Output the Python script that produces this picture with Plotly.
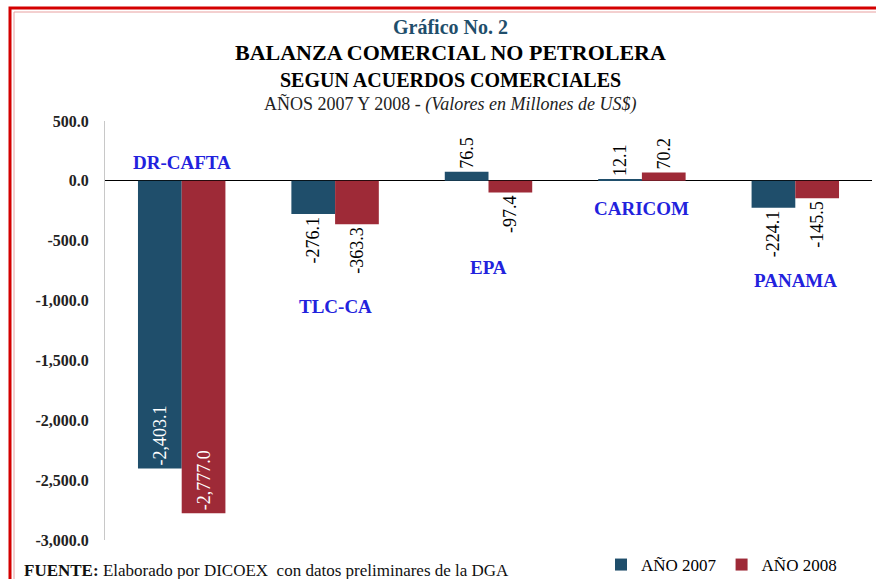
import plotly.graph_objects as go

acuerdos = ['DR-CAFTA', 'TLC-CA', 'EPA', 'CARICOM', 'PANAMA']
anio_2007 = [-2403.1, -276.1, 76.5, 12.1, -224.1]
anio_2008 = [-2777.0, -363.3, -97.4, 70.2, -145.5]
# where each agreement's blue name sits (in y data units)
nombre_y = [150, -1050, -720, -235, -830]
ytick_vals = [500, 0, -500, -1000, -1500, -2000, -2500, -3000]

AZUL = '#1f4e6b'
ROJO = '#9e2a37'
FONT = 'Liberation Serif'


def fmt(v):
    return '{:,.1f}'.format(v)


def bar(name, vals, color):
    pos = ['inside' if v < -1000 else 'outside' for v in vals]
    return go.Bar(x=acuerdos, y=vals, name=name, marker=dict(color=color, line=dict(width=0)),
                  text=[fmt(v) for v in vals], textposition=pos, textangle=-90,
                  insidetextanchor='end', cliponaxis=False, constraintext='none',
                  insidetextfont=dict(family=FONT, size=18, color='white'),
                  outsidetextfont=dict(family=FONT, size=18, color='black'))


fig = go.Figure([bar('AÑO 2007', anio_2007, AZUL), bar('AÑO 2008', anio_2008, ROJO)])

L, R, T, B = 105, 4, 121, 39
W, H = 876, 579
pw, ph = W - L - R, H - T - B


def px(x):
    return (x - L) / pw


def py(y):
    return (H - B - y) / ph


annotations = []
for a, ny in zip(acuerdos, nombre_y):
    annotations.append(dict(x=a, y=ny, xref='x', yref='y', text='<b>%s</b>' % a, showarrow=False,
                            font=dict(family=FONT, size=19, color='#2222dd')))

titulos = [
    ('<b>Gráfico No. 2</b>', 27, 20, AZUL),
    ('<b>BALANZA COMERCIAL NO PETROLERA</b>', 53, 22, 'black'),
    ('<b>SEGUN ACUERDOS COMERCIALES</b>', 80, 20, 'black'),
    ('AÑOS 2007 Y 2008 - <i>(Valores en Millones de US$)</i>', 104, 18, '#222222'),
]
for txt, y, size, color in titulos:
    annotations.append(dict(x=px(450), y=py(y), xref='paper', yref='paper', text=txt, showarrow=False,
                            yanchor='middle', font=dict(family=FONT, size=size, color=color)))

annotations.append(dict(x=px(22), y=py(570), xref='paper', yref='paper', xanchor='left', yanchor='middle',
                        text='<b>FUENTE:</b> Elaborado por DICOEX  con datos preliminares de la DGA',
                        showarrow=False, font=dict(family=FONT, size=17, color='#111111')))

fig.update_layout(
    width=W, height=H, margin=dict(l=L, r=R, t=T, b=B, autoexpand=False),
    paper_bgcolor='white', plot_bgcolor='white',
    barmode='group', bargap=0.43, bargroupgap=0,
    annotations=annotations,
    font=dict(family=FONT, color='black'),
    legend=dict(orientation='h', x=px(842), y=py(565), xanchor='right', yanchor='middle',
                font=dict(family=FONT, size=17, color='black'), itemwidth=30,
                bgcolor='rgba(0,0,0,0)'),
    shapes=[
        dict(type='rect', xref='paper', yref='paper', x0=px(10), y0=-0.5, x1=1.2, y1=py(8),
             line=dict(color='#d40000', width=3)),
        dict(type='rect', xref='paper', yref='paper', x0=px(14), y0=-0.5, x1=1.2, y1=py(12),
             line=dict(color='#e8a0a0', width=1)),
    ],
)
fig.update_xaxes(showticklabels=False, showgrid=False, showline=False, zeroline=False, ticks='')
fig.update_yaxes(range=[-3000, 500], tickvals=ytick_vals, ticktext=['<b>%s</b>' % fmt(v) for v in ytick_vals],
                 tickfont=dict(family=FONT, size=16, color='#222222'), showgrid=False,
                 showline=True, linecolor='#c8c8c8', linewidth=1,
                 ticks='outside', ticklen=12, tickcolor='rgba(0,0,0,0)',
                 zeroline=True, zerolinecolor='black', zerolinewidth=1)

fig.write_html('out.html', config={'displayModeBar': False},
               post_script="document.body.style.margin='0';")
